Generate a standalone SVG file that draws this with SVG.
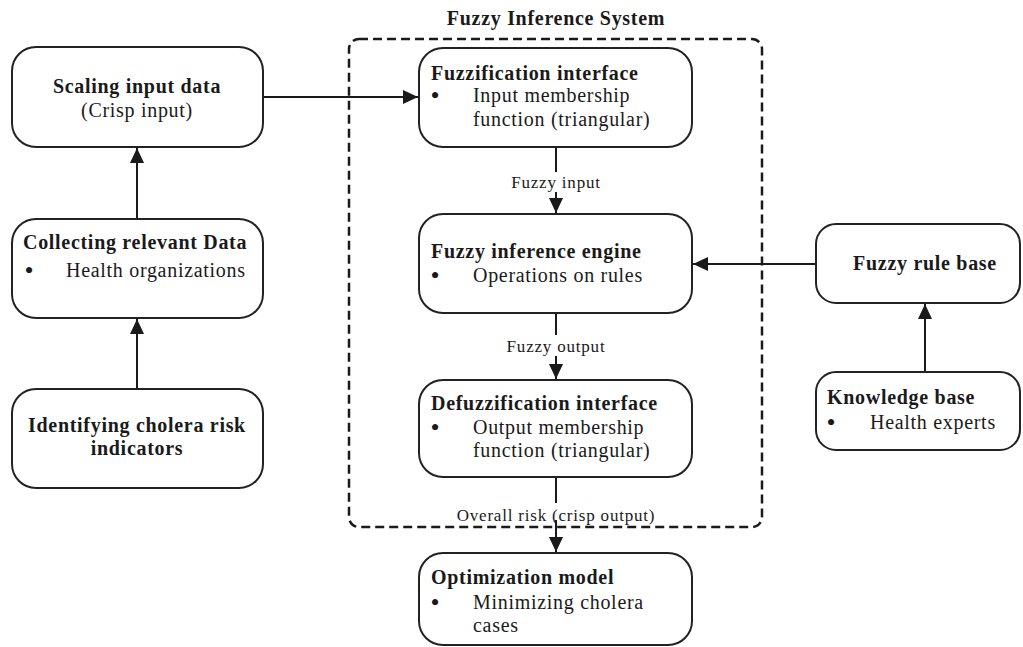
<svg xmlns="http://www.w3.org/2000/svg" width="1023" height="647" viewBox="0 0 1023 647">
<style>
.box{fill:#fff;stroke:#222;stroke-width:2}
.t{font-family:"Liberation Serif","Times New Roman",serif;font-size:20px;fill:#1a1a1a;letter-spacing:0.7px}
.b{font-weight:bold}
.c{text-anchor:middle}
.bul{font-family:"Liberation Serif","Times New Roman",serif;font-size:26px;fill:#1a1a1a;text-anchor:middle}
.lbl{font-family:"Liberation Serif","Times New Roman",serif;font-size:17px;fill:#1a1a1a;letter-spacing:0.8px;text-anchor:middle}
.ln{stroke:#1a1a1a;stroke-width:2;fill:none}
</style>
<defs>
<marker id="ah" markerWidth="15" markerHeight="14" refX="15" refY="7" orient="auto" markerUnits="userSpaceOnUse">
<path d="M0,0 L15,7 L0,14 Z" fill="#1a1a1a"/>
</marker>
</defs>
<g id="fis-boundary">
<rect x="349" y="39" width="413" height="488" rx="10" fill="none" stroke="#1a1a1a" stroke-width="2.5" stroke-dasharray="9,5"/>
<text class="t b c" x="556" y="25">Fuzzy Inference System</text>
</g>
<g id="connectors">
<line class="ln" x1="137" y1="389" x2="137" y2="319" marker-end="url(#ah)"/>
<line class="ln" x1="137" y1="219" x2="137" y2="148" marker-end="url(#ah)"/>
<line class="ln" x1="263" y1="97" x2="418" y2="97" marker-end="url(#ah)"/>
<line class="ln" x1="556" y1="147" x2="556" y2="172"/>
<line class="ln" x1="556" y1="192" x2="556" y2="213" marker-end="url(#ah)"/>
<line class="ln" x1="556" y1="313" x2="556" y2="335"/>
<line class="ln" x1="556" y1="356" x2="556" y2="379" marker-end="url(#ah)"/>
<line class="ln" x1="556" y1="477" x2="556" y2="503"/>
<line class="ln" x1="556" y1="520" x2="556" y2="552" marker-end="url(#ah)"/>
<line class="ln" x1="816" y1="264" x2="693" y2="264" marker-end="url(#ah)"/>
<line class="ln" x1="925" y1="372" x2="925" y2="304" marker-end="url(#ah)"/>
<text class="lbl" x="556" y="188">Fuzzy input</text>
<text class="lbl" x="556" y="352">Fuzzy output</text>
<text class="lbl" x="556" y="521">Overall risk (crisp output)</text>
</g>
<g id="scaling">
<rect class="box" x="12" y="47" width="251" height="100" rx="24"/>
<text class="t b c" x="137" y="93">Scaling input data</text>
<text class="t c" x="137" y="117">(Crisp input)</text>
</g>
<g id="collecting">
<rect class="box" x="12" y="219" width="251" height="99" rx="24"/>
<text class="t b" x="23" y="249">Collecting relevant Data</text>
<text class="bul" x="29" y="279">•</text>
<text class="t" x="66" y="277">Health organizations</text>
</g>
<g id="identifying">
<rect class="box" x="12" y="389" width="251" height="99" rx="24"/>
<text class="t b c" x="137" y="432">Identifying cholera risk</text>
<text class="t b c" x="137" y="455">indicators</text>
</g>
<g id="fuzzification">
<rect class="box" x="419" y="48" width="273" height="99" rx="24"/>
<text class="t b" x="431" y="80">Fuzzification interface</text>
<text class="bul" x="435" y="104">•</text>
<text class="t" x="473" y="102">Input membership</text>
<text class="t" x="473" y="126">function (triangular)</text>
</g>
<g id="inference-engine">
<rect class="box" x="419" y="214" width="273" height="99" rx="24"/>
<text class="t b" x="431" y="258">Fuzzy inference engine</text>
<text class="bul" x="435" y="284">•</text>
<text class="t" x="473" y="282">Operations on rules</text>
</g>
<g id="defuzzification">
<rect class="box" x="419" y="380" width="273" height="97" rx="24"/>
<text class="t b" x="431" y="410">Defuzzification interface</text>
<text class="bul" x="435" y="436">•</text>
<text class="t" x="473" y="434">Output membership</text>
<text class="t" x="473" y="457">function (triangular)</text>
</g>
<g id="optimization">
<rect class="box" x="419" y="553" width="273" height="92" rx="24"/>
<text class="t b" x="431" y="584">Optimization model</text>
<text class="bul" x="435" y="611">•</text>
<text class="t" x="473" y="609">Minimizing cholera</text>
<text class="t" x="473" y="632">cases</text>
</g>
<g id="rule-base">
<rect class="box" x="816" y="224" width="204" height="79" rx="20"/>
<text class="t b c" x="925" y="270">Fuzzy rule base</text>
</g>
<g id="knowledge-base">
<rect class="box" x="816" y="372" width="204" height="78" rx="20"/>
<text class="t b" x="827" y="404">Knowledge base</text>
<text class="bul" x="831" y="431">•</text>
<text class="t" x="870" y="429">Health experts</text>
</g>
</svg>
